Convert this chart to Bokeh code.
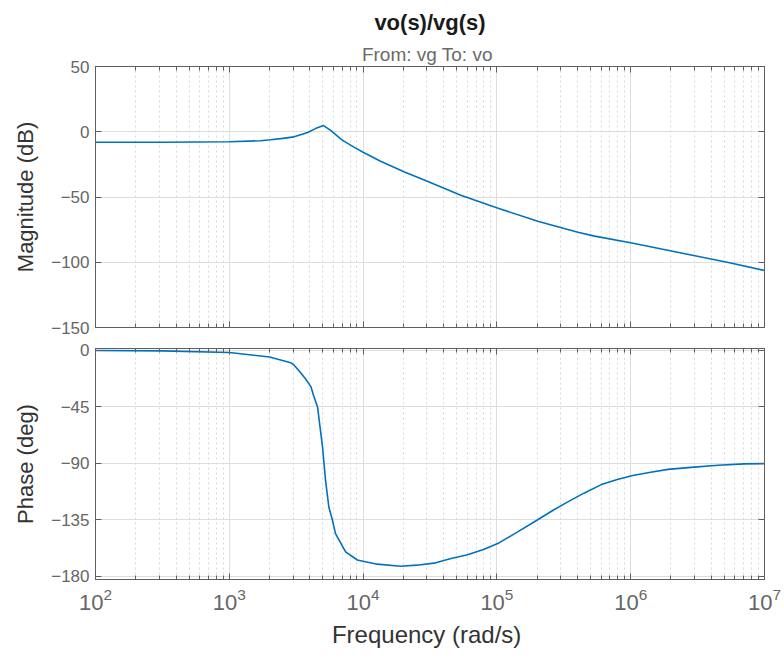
from bokeh.plotting import figure
from bokeh.models import (LogAxis, LinearAxis, FixedTicker, Title, Range1d,
                          LogTicker)
from bokeh.layouts import column
from bokeh.embed import file_html
from bokeh.resources import INLINE

# ---- data (frequency in rad/s) ----
mag_freq = [1e2, 3.16e2, 1e3, 1.706e3, 2.04e3, 2.51e3, 3.05e3, 3.85e3, 4.44e3,
            5.07e3, 5.75e3, 6.84e3, 7.24e3, 8.61e3, 1e4, 1.35e4, 2.04e4,
            3.02e4, 5.37e4, 7.59e4, 1.035e5, 2.02e5, 4.03e5, 5.37e5, 1.02e6,
            1.7e6, 3.02e6, 5.37e6, 1e7]
mag_db = [-8.0, -8.0, -7.7, -6.9, -6.1, -5.1, -3.9, -0.6, 2.6,
          4.7, 0.8, -5.6, -7.4, -12.0, -15.7, -22.6, -30.8,
          -38.0, -48.7, -54.1, -58.8, -68.6, -77.0, -80.0, -85.3,
          -89.9, -95.0, -100.2, -106.3]

ph_freq = [1e2, 3.16e2, 1e3, 2e3, 2.88e3, 3.03e3, 3.39e3, 3.72e3, 4.07e3,
           4.27e3, 4.57e3, 4.74e3, 4.98e3, 5.24e3, 5.55e3, 5.89e3, 6.22e3,
           7.40e3, 9.06e3, 1e4, 1.276e4, 1.905e4, 2.51e4, 3.39e4, 4.47e4,
           6.03e4, 7.94e4, 1.035e5, 1.41e5, 2.02e5, 2.63e5, 3.39e5, 4.47e5,
           6.03e5, 7.94e5, 1.035e6, 1.41e6, 1.9e6, 2.82e6, 4.5e6, 7.08e6, 1e7]
ph_deg = [-0.3, -0.6, -1.9, -5.5, -10.0, -11.7, -17.6, -23.0, -29.0,
          -36.3, -45.5, -59.0, -77.5, -103.7, -125.0, -135.0, -146.0,
          -160.5, -167.0, -168.0, -170.3, -172.0, -171.1, -169.5, -166.0,
          -162.8, -158.6, -153.4, -145.0, -135.0, -127.4, -120.7, -113.8,
          -107.0, -103.0, -99.8, -97.1, -94.9, -93.3, -91.6, -90.5, -90.3]

mag_ticks = [-150, -100, -50, 0, 50]
ph_ticks = [-180, -135, -90, -45, 0]

title_text = "vo(s)/vg(s)"
subtitle_text = "From: vg  To: vo"
mag_label = "Magnitude (dB)"
ph_label = "Phase (deg)"
x_label = "Frequency  (rad/s)"

LINE = "#0072BD"
FRAME = "#5f5f5f"
TICKLBL = "#666666"
LABEL = "#333333"
FONT = "Liberation Sans"
GRID = "#dedede"


def hide_labels(ax):
    ax.major_label_text_font_size = "1px"
    ax.major_label_text_alpha = 0
    ax.major_label_standoff = 0


def tick_style(ax, minor=True):
    ax.axis_line_color = FRAME
    ax.major_tick_line_color = FRAME
    ax.minor_tick_line_color = FRAME if minor else None
    ax.major_tick_in = 6
    ax.major_tick_out = 0
    ax.minor_tick_in = 4
    ax.minor_tick_out = 0
    ax.major_label_text_font = FONT
    ax.major_label_text_color = TICKLBL
    ax.axis_label_text_font = FONT
    ax.axis_label_text_color = LABEL
    ax.axis_label_text_font_style = "normal"


def make(height, yrange, yticks, ylabel, bt, bb):
    p = figure(width=784, height=height, x_axis_type="log",
               x_range=Range1d(1e2, 1e7), y_range=Range1d(*yrange),
               output_backend="svg", toolbar_location=None,
               min_border_left=95, min_border_right=20,
               min_border_top=bt, min_border_bottom=bb)
    p.outline_line_color = FRAME
    p.outline_line_width = 1
    bottom = p.below[0]
    left = p.left[0]
    bottom.ticker = LogTicker(num_minor_ticks=10)
    left.ticker = FixedTicker(ticks=yticks)
    tick_style(bottom)
    tick_style(left, minor=False)
    left.major_label_text_font_size = "17px"
    left.major_label_standoff = 6
    left.axis_label = ylabel
    left.axis_label_text_font_size = "22px"
    left.axis_label_standoff = 10
    p.xgrid.grid_line_color = GRID
    p.ygrid.grid_line_color = GRID
    p.xgrid.minor_grid_line_color = "#cfcfcf"
    p.xgrid.minor_grid_line_dash = "2 3"
    p.xgrid.minor_grid_line_alpha = 0.8
    # ticks on the top and right edges (box style)
    top = LogAxis(ticker=LogTicker(num_minor_ticks=10))
    tick_style(top)
    hide_labels(top)
    right = LinearAxis(ticker=FixedTicker(ticks=yticks))
    tick_style(right, minor=False)
    hide_labels(right)
    p.add_layout(top, "above")
    p.add_layout(right, "right")
    return p, bottom


p1, b1 = make(337, (-150, 50), mag_ticks, mag_label, 66, 10)
hide_labels(b1)
p1.line(mag_freq, mag_db, line_color=LINE, line_width=1.6)
p1.add_layout(Title(text=subtitle_text, align="center", text_font=FONT,
                    text_font_size="19px", text_font_style="normal",
                    text_color="#6a6a6a", standoff=4), "above")
p1.add_layout(Title(text=title_text, align="center", text_font=FONT,
                    text_font_size="22px", text_font_style="bold",
                    text_color="#1a1a1a"), "above")

p2, b2 = make(319, (-182.5, 1.3), ph_ticks, ph_label, 11, 77)
b2.axis_label = x_label
b2.major_label_text_font_size = "22px"
b2.major_label_standoff = 8
b2.axis_label_text_font_size = "24px"
b2.axis_label_standoff = 8
p2.line(ph_freq, ph_deg, line_color=LINE, line_width=1.6)

layout = column(p1, p2, spacing=0)
open("out.html", "w").write(file_html(layout, INLINE))
